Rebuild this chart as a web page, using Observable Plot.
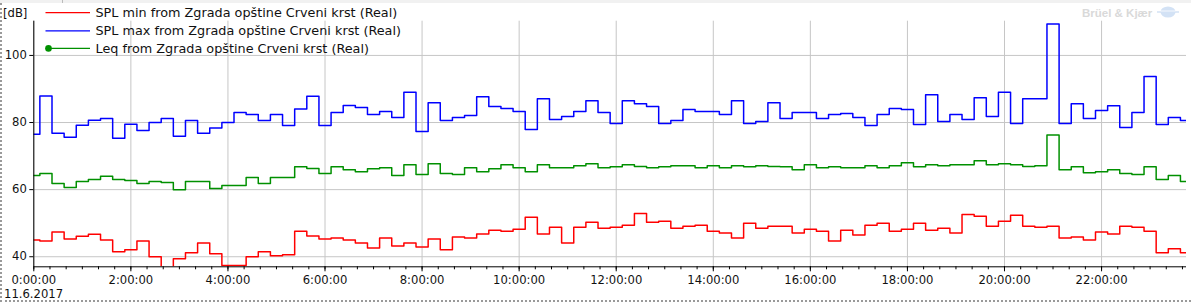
<!DOCTYPE html>
<html><head><meta charset="utf-8">
<script src="https://cdn.jsdelivr.net/npm/d3@7"></script>
<script src="https://cdn.jsdelivr.net/npm/@observablehq/plot@0.6"></script>
<style>
html,body{margin:0;padding:0;background:#fff;}
#wrap{position:relative;width:1191px;height:304px;overflow:hidden;background:#fff;font-family:"DejaVu Sans",sans-serif;}
#wrap svg{position:absolute;left:0;top:0;}
#topstrip{position:absolute;left:0;top:0;width:1191px;height:3px;background:#f1f1f1;}
#border{position:absolute;left:0;top:3px;width:1189px;height:297px;border-left:2px dotted #9a9a9a;border-bottom:2px dotted #9a9a9a;}
</style></head>
<body><div id="wrap"><div id="topstrip"></div><div id="border"></div></div>
<script>
// ---- data (15-minute intervals starting 11.6.2017 0:00) ----
const startTime = "2017-06-11T00:00:00Z";
const intervalMinutes = 15;

const splMin = [45.0,44.7,47.4,45.3,46.1,46.7,45.0,41.5,42.1,44.7,40.0,36.0,39.4,41.2,44.1,40.9,37.4,37.4,40.0,41.5,40.3,40.6,47.6,46.2,45.3,45.6,45.0,44.1,42.6,45.6,43.2,
  44.1,42.9,45.3,42.1,45.9,45.6,46.8,47.9,47.6,48.2,51.8,46.8,48.8,44.1,48.8,50.3,48.5,48.8,49.4,52.9,50.3,50.6,48.5,49.1,49.4,
  47.6,47.1,45.6,50.0,48.5,49.1,49.1,47.1,48.2,47.6,44.7,47.9,46.5,49.4,50.0,47.6,48.2,50.0,47.9,48.5,47.1,52.6,52.1,49.1,50.6,
  52.4,49.1,48.8,49.1,45.6,45.9,45.0,47.4,46.8,49.1,48.8,47.6,41.2,42.4,41.2];

const splMax = [76.5,87.9,76.8,75.6,79.2,80.7,81.2,75.3,79.5,77.6,80.0,81.2,75.9,80.6,76.8,78.4,80.0,83.0,82.4,80.6,82.4,79.1,84.0,87.8,79.1,83.0,85.1,84.5,82.4,83.3,81.5,
  89.0,77.3,85.9,80.6,81.5,82.1,87.7,84.8,84.2,83.3,77.9,87.1,80.9,81.8,83.3,86.5,83.0,79.7,86.5,85.6,84.8,79.7,80.6,83.9,83.3,
  83.3,82.4,86.5,79.7,80.3,85.9,81.2,83.0,83.0,81.2,82.4,82.7,81.5,79.1,82.4,84.2,83.9,79.4,88.3,80.3,82.4,80.9,87.4,81.8,89.0,
  79.7,87.1,87.1,109.4,79.7,85.6,81.2,83.6,85.0,78.5,83.0,93.7,79.4,81.5,80.6];

const leq = [64.2,64.8,61.8,60.6,62.4,63.0,64.0,63.0,62.7,61.8,62.4,62.1,60.0,62.4,62.4,60.3,61.2,61.2,63.6,61.8,63.6,63.6,66.8,66.3,64.8,66.8,65.9,65.3,66.2,66.5,64.2,
  67.4,64.5,67.7,64.8,64.5,66.5,65.3,66.2,67.4,66.5,65.3,67.4,66.5,66.5,67.1,67.7,66.5,66.8,67.4,66.9,66.5,66.8,67.1,67.1,66.5,
  67.1,66.5,67.1,66.8,67.1,66.9,66.8,65.9,67.4,66.5,66.8,66.5,66.5,67.1,66.5,67.1,68.0,66.8,67.4,67.1,67.4,67.4,68.6,67.4,67.7,
  67.4,66.9,67.1,76.3,65.9,66.8,65.0,65.3,65.9,64.8,64.5,66.8,63.0,64.2,62.4];

const seriesNames = [
  "SPL min from Zgrada opštine Crveni krst (Real)",
  "SPL max from Zgrada opštine Crveni krst (Real)",
  "Leq from Zgrada opštine Crveni krst (Real)"
];
const seriesColors = ["#ff0000", "#0000ff", "#009000"];
const yTicks = [40, 60, 80, 100];
const yDomain = [37, 110.2];
const xTickHours = [0, 2, 4, 6, 8, 10, 12, 14, 16, 18, 20, 22];
const minorTickMinutes = 20;
const dateLabel = "11.6.2017";
const unitLabel = "[dB]";
const brandLabel = "Brüel & Kjær";

// ---- build table ----
const t0 = new Date(startTime);
const times = splMin.map((_, i) => new Date(+t0 + i * intervalMinutes * 60000));
const seriesValues = [splMin, splMax, leq];
const rows = [];
seriesValues.forEach((arr, s) => arr.forEach((v, i) => rows.push({t: times[i], v, s: seriesNames[s]})));
const xEnd = times[times.length - 1];
const majorTicks = xTickHours.map(h => new Date(+t0 + h * 3600000));
const minorTicks = d3.utcMinute.every(minorTickMinutes).range(t0, new Date(+xEnd + 1));
const fmt = d => `${d.getUTCHours()}:${String(d.getUTCMinutes()).padStart(2, "0")}:${String(d.getUTCSeconds()).padStart(2, "0")}`;

const chart = Plot.plot({
  width: 1191, height: 304,
  marginLeft: 33.3, marginRight: 5, marginTop: 20.7, marginBottom: 37.7,
  style: {fontFamily: "DejaVu Sans, sans-serif", fontSize: "11.6px", color: "#111", background: "transparent"},
  x: {type: "utc", domain: [t0, xEnd]},
  y: {domain: yDomain},
  color: {domain: seriesNames, range: seriesColors},
  marks: [
    Plot.gridY(yTicks, {stroke: "#c6c6c6", strokeOpacity: 1, strokeWidth: 1}),
    Plot.gridX(majorTicks, {stroke: "#c6c6c6", strokeOpacity: 1, strokeWidth: 1}),
    Plot.line(rows, {x: "t", y: "v", z: "s", stroke: "s", curve: "step", strokeWidth: 1.5, clip: true}),
    Plot.ruleY([yDomain[0]], {stroke: "#000", strokeWidth: 1}),
    Plot.ruleX([t0], {stroke: "#000", strokeWidth: 1}),
    Plot.axisX(minorTicks, {tickSize: 3, tickFormat: () => "", label: null, stroke: "#000"}),
    Plot.axisX(majorTicks, {tickSize: 5, tickPadding: 4, tickFormat: fmt, label: null, stroke: "#000"}),
    Plot.axisY(yTicks, {tickSize: 4, tickPadding: 3, label: null, stroke: "#000"})
  ]
});
document.getElementById("wrap").appendChild(chart);

// ---- overlay: unit label, legend, date, brand ----
const ov = d3.select("#wrap").append("svg").attr("width", 1191).attr("height", 304)
  .style("font-family", "DejaVu Sans, sans-serif").style("font-size", "11.6px");
ov.append("line").attr("x1", 62.5).attr("x2", 62.5).attr("y1", 0).attr("y2", 3).attr("stroke", "#bbb");
ov.append("text").attr("x", 3).attr("y", 13.3).attr("dy", "0.35em").attr("fill", "#111").text(unitLabel);
const legendY = [12.7, 30.8, 48.4];
seriesNames.forEach((name, i) => {
  ov.append("line").attr("x1", 45.5).attr("x2", 90).attr("y1", legendY[i]).attr("y2", legendY[i])
    .attr("stroke", seriesColors[i]).attr("stroke-width", 1.2);
  if (i === 2) ov.append("circle").attr("cx", 48.5).attr("cy", legendY[i]).attr("r", 3.3).attr("fill", seriesColors[i]);
  ov.append("text").attr("x", 95.5).attr("y", legendY[i]).attr("dy", "0.36em").attr("fill", "#111")
    .style("font-size", "12.8px").text(name);
});
ov.append("text").attr("x", 4).attr("y", 298.3).attr("fill", "#111").text(dateLabel);
ov.append("text").attr("x", 1082).attr("y", 12.5).attr("dy", "0.35em").attr("fill", "#d9d9d9")
  .style("font-family", "Liberation Sans, Arial, sans-serif").style("font-weight", "bold").style("font-size", "11.5px")
  .text(brandLabel);
const logo = ov.append("g").attr("transform", "translate(1168,12)");
logo.append("ellipse").attr("rx", 7.5).attr("ry", 5.5).attr("fill", "#d3e2f5");
logo.append("line").attr("x1", -11).attr("x2", 11).attr("y1", 0).attr("y2", 0).attr("stroke", "#d3e2f5").attr("stroke-width", 1.5);
logo.append("line").attr("x1", -7.5).attr("x2", 7.5).attr("y1", -1).attr("y2", -1).attr("stroke", "#fff").attr("stroke-width", 0.8);
</script>
</body></html>
